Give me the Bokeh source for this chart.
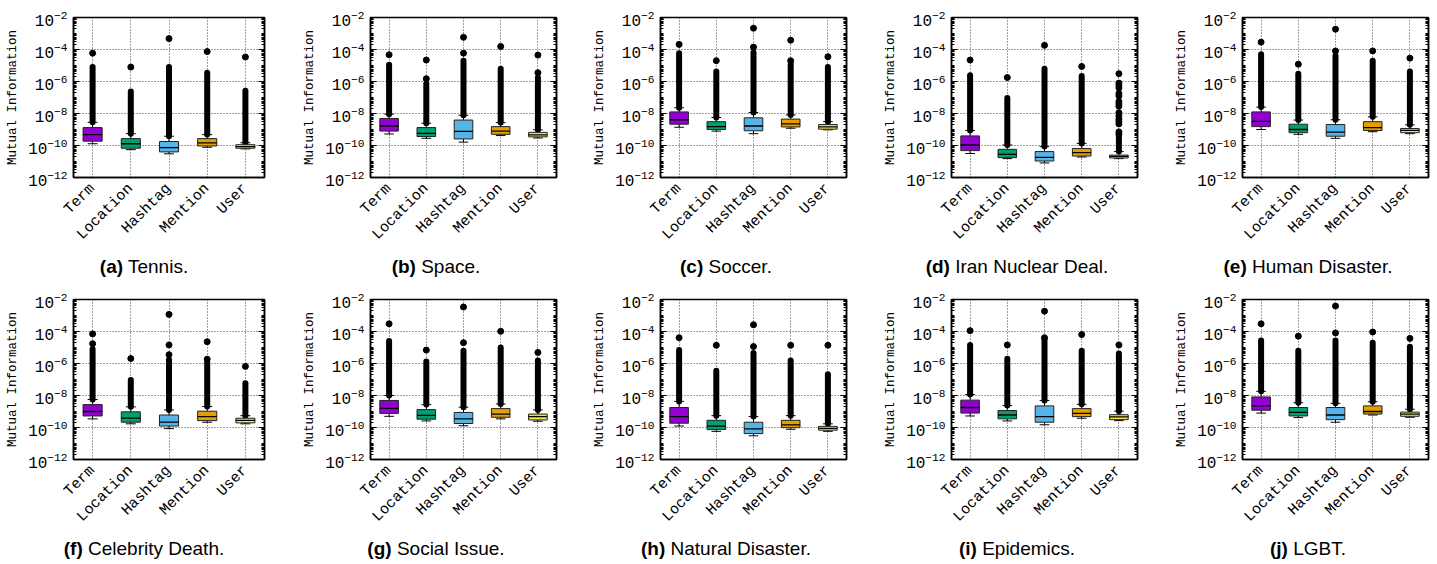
import math
from bokeh.plotting import figure
from bokeh.layouts import row, column
from bokeh.models import (ColumnDataSource, FactorRange, Range1d, FixedTicker,
                          LogAxis, CustomJSTickFormatter, Div)
from bokeh.transform import dodge
from bokeh.embed import file_html
from bokeh.resources import INLINE

# ---------------- data (log10 of mutual information) ----------------
categories = ["Term", "Location", "Hashtag", "Mention", "User"]
colors = ["#9400D3", "#009E73", "#56B4E9", "#E69F00", "#F0E442"]
letters = ["(a)", "(b)", "(c)", "(d)", "(e)", "(f)", "(g)", "(h)", "(i)", "(j)"]
titles = ["Tennis.", "Space.", "Soccer.", "Iran Nuclear Deal.", "Human Disaster.",
          "Celebrity Death.", "Social Issue.", "Natural Disaster.", "Epidemics.", "LGBT."]

q3_log = [
    [-8.88, -9.57, -9.75, -9.57, -9.95],
    [-8.31, -8.88, -8.41, -8.82, -9.18],
    [-7.90, -8.51, -8.27, -8.35, -8.69],
    [-9.40, -10.24, -10.38, -10.19, -10.60],
    [-7.90, -8.67, -8.69, -8.51, -8.94],
    [-8.57, -9.02, -9.22, -8.98, -9.42],
    [-8.31, -8.88, -9.06, -8.82, -9.16],
    [-8.75, -9.55, -9.67, -9.55, -9.93],
    [-8.29, -8.94, -8.65, -8.82, -9.20],
    [-8.09, -8.75, -8.75, -8.65, -9.04],
]
median_log = [
    [-9.32, -9.89, -10.13, -9.83, -10.07],
    [-8.78, -9.24, -9.12, -9.10, -9.34],
    [-8.39, -8.82, -8.78, -8.65, -8.84],
    [-9.97, -10.56, -10.74, -10.44, -10.68],
    [-8.49, -9.00, -9.16, -8.88, -9.06],
    [-9.00, -9.42, -9.67, -9.32, -9.55],
    [-8.80, -9.24, -9.46, -9.16, -9.32],
    [-9.32, -9.91, -10.09, -9.83, -10.05],
    [-8.75, -9.22, -9.32, -9.12, -9.34],
    [-8.65, -9.06, -9.22, -9.00, -9.16],
]
q1_log = [
    [-9.73, -10.17, -10.40, -10.03, -10.17],
    [-9.10, -9.44, -9.59, -9.30, -9.46],
    [-8.67, -9.00, -9.08, -8.84, -8.98],
    [-10.32, -10.76, -10.97, -10.66, -10.78],
    [-8.82, -9.20, -9.42, -9.06, -9.20],
    [-9.28, -9.67, -9.91, -9.57, -9.71],
    [-9.12, -9.48, -9.75, -9.36, -9.53],
    [-9.73, -10.13, -10.38, -10.01, -10.17],
    [-9.10, -9.46, -9.67, -9.32, -9.51],
    [-8.92, -9.28, -9.51, -9.16, -9.30],
]
whisker_low_log = [
    [-9.89, -10.26, -10.52, -10.11, -10.21],
    [-9.28, -9.55, -9.79, -9.38, -9.53],
    [-8.86, -9.10, -9.26, -8.92, -9.02],
    [-10.50, -10.82, -11.09, -10.72, -10.82],
    [-9.00, -9.30, -9.55, -9.14, -9.26],
    [-9.46, -9.77, -10.07, -9.67, -9.77],
    [-9.30, -9.59, -9.89, -9.46, -9.61],
    [-9.91, -10.24, -10.52, -10.11, -10.24],
    [-9.28, -9.59, -9.83, -9.42, -9.57],
    [-9.10, -9.38, -9.67, -9.22, -9.36],
]
whisker_high_log = [
    [-8.55, -9.26, -9.42, -9.32, -9.83],
    [-8.04, -8.61, -8.11, -8.57, -9.02],
    [-7.64, -8.25, -7.94, -8.09, -8.51],
    [-9.06, -9.97, -10.07, -9.87, -10.38],
    [-7.60, -8.41, -8.39, -8.21, -8.71],
    [-8.25, -8.71, -8.90, -8.69, -9.26],
    [-8.00, -8.57, -8.73, -8.53, -8.90],
    [-8.37, -9.26, -9.32, -9.26, -9.77],
    [-7.94, -8.63, -8.31, -8.55, -8.98],
    [-7.74, -8.45, -8.49, -8.39, -8.86],
]
# upper end of the dense (overlapping) outlier column
dense_outlier_top_log = [
    [-5.10, -6.62, -5.10, -5.45, -6.58],
    [-4.96, -6.12, -4.70, -5.20, -5.75],
    [-4.23, -5.37, -4.19, -4.90, -5.10],
    [-5.61, -7.03, -5.20, -5.65, -9.46],
    [-4.29, -5.51, -4.39, -4.70, -5.37],
    [-5.10, -7.03, -5.77, -5.91, -7.23],
    [-4.60, -5.87, -5.20, -5.00, -5.81],
    [-5.16, -6.46, -5.35, -5.81, -6.67],
    [-4.84, -5.71, -4.49, -5.20, -5.37],
    [-4.56, -5.20, -4.56, -4.70, -4.96],
]
# separate outliers above the dense column
isolated_outliers_log = [
    [[-4.23], [-5.10], [-3.32], [-4.13], [-4.47]],
    [[-4.33], [-5.83, -4.66], [-4.23, -3.24], [-3.81], [-5.45, -4.35]],
    [[-3.68], [-4.70], [-3.85, -2.67], [-4.70, -3.42], [-4.45]],
    [[-4.66], [-5.75], [-3.74], [-5.06],
     [-9.30, -9.15, -8.65, -8.50, -8.35, -8.15, -7.95, -7.55, -7.40, -7.25,
      -6.90, -6.75, -6.40, -6.25, -6.10, -5.51]],
    [[-3.54], [-4.92], [-4.09, -2.73], [-4.09], [-4.54]],
    [[-4.76, -4.15], [-5.69], [-5.45, -4.84, -2.93], [-5.73, -4.64], [-6.18]],
    [[-3.52], [-5.16], [-4.70, -2.47], [-3.99], [-5.31]],
    [[-4.39], [-4.86], [-4.94, -3.58], [-4.86], [-4.86]],
    [[-3.95], [-4.84], [-4.39, -2.73], [-4.19], [-4.84]],
    [[-3.52], [-4.29], [-4.09, -2.41], [-4.03], [-4.43]],
]
major_exps = [-12, -10, -8, -6, -4, -2]

# ---------------- layout / style ----------------
MONO = "Liberation Mono"
SANS = "Liberation Sans"
col_widths = [300, 290, 291, 291, 264]
left_borders = [73, 65, 65, 65, 65]
right_borders = [36, 34, 35, 35, 8]
fig_heights = [252, 244]
top_borders = [17, 9]
BOTTOM = 70
cap_heights = [38, 28]


def pw(v):
    return [10.0 ** x for x in v]


major_ticks = [10.0 ** e for e in major_exps]
minor_ticks = [m * 10.0 ** e for e in range(-12, -2) for m in range(2, 10)] + \
              [10.0 ** e for e in range(-11, -2, 2)]


def make_panel(k):
    r, c = divmod(k, 5)
    p = figure(width=col_widths[c], height=fig_heights[r],
               x_range=FactorRange(*categories), y_range=Range1d(1e-12, 1e-2),
               y_axis_type="log", output_backend="svg", toolbar_location=None,
               min_border_left=left_borders[c], min_border_right=right_borders[c],
               min_border_top=top_borders[r], min_border_bottom=BOTTOM)
    p.background_fill_color = "white"
    p.border_fill_color = "white"
    p.outline_line_color = "black"
    p.outline_line_width = 1.5
    p.outline_line_alpha = 1.0

    ticker = FixedTicker(ticks=major_ticks, minor_ticks=minor_ticks)
    ya = p.yaxis[0]
    ya.ticker = ticker
    ya.axis_label = "Mutual Information"
    ya.axis_label_text_font = MONO
    ya.axis_label_text_font_size = "12.5px"
    ya.axis_label_text_font_style = "normal"
    ya.axis_label_text_color = "black"
    ya.axis_label_standoff = 5
    ya.major_label_text_font = MONO
    ya.major_label_text_font_size = "16px"
    ya.major_label_text_color = "black"
    ya.major_label_standoff = 6
    ya.major_tick_in = 6
    ya.major_tick_out = 0
    ya.minor_tick_in = 3
    ya.minor_tick_out = 0
    ya.axis_line_color = "black"
    ya.axis_line_width = 1.5

    ra = LogAxis(ticker=ticker, formatter=CustomJSTickFormatter(code="return ''"),
                 major_label_standoff=0,
                 major_tick_in=6, major_tick_out=0, minor_tick_in=3, minor_tick_out=0,
                 axis_line_color="black", axis_line_width=1.5)
    p.add_layout(ra, "right")

    xa = p.xaxis[0]
    xa.major_label_orientation = math.pi / 4
    xa.major_label_text_font = MONO
    xa.major_label_text_font_size = "15px"
    xa.major_label_text_color = "black"
    xa.major_label_standoff = 9
    xa.major_tick_in = 0
    xa.major_tick_out = 0
    xa.axis_line_color = "black"
    xa.axis_line_width = 1.5

    for g in (p.xgrid[0], p.ygrid[0]):
        g.grid_line_color = "black"
        g.grid_line_alpha = 0.75
        g.grid_line_dash = "1 2"
        g.grid_line_width = 1
    p.ygrid[0].ticker = ticker

    src = ColumnDataSource(dict(
        cat=categories,
        q1=pw(q1_log[k]), q3=pw(q3_log[k]), med=pw(median_log[k]),
        lo=pw(whisker_low_log[k]), hi=pw(whisker_high_log[k]),
        top=pw(dense_outlier_top_log[k]), color=colors,
    ))
    # dense outlier column
    p.segment(x0="cat", y0="hi", x1="cat", y1="top", source=src,
              line_color="black", line_width=6, line_cap="round")
    # whiskers
    p.segment(x0="cat", y0="lo", x1="cat", y1="q1", source=src, line_color="black", line_width=1)
    p.segment(x0="cat", y0="q3", x1="cat", y1="hi", source=src, line_color="black", line_width=1)
    for yf in ("lo", "hi"):
        p.segment(x0=dodge("cat", -0.13, range=p.x_range), y0=yf,
                  x1=dodge("cat", 0.13, range=p.x_range), y1=yf,
                  source=src, line_color="black", line_width=1)
    # boxes
    p.vbar(x="cat", width=0.5, bottom="q1", top="q3", source=src,
           fill_color="color", line_color="#222222", line_width=1)
    p.segment(x0=dodge("cat", -0.25, range=p.x_range), y0="med",
              x1=dodge("cat", 0.25, range=p.x_range), y1="med",
              source=src, line_color="black", line_width=1.3)
    # isolated outliers
    oc, ov = [], []
    for ci, vals in enumerate(isolated_outliers_log[k]):
        for v in vals:
            oc.append(categories[ci])
            ov.append(10.0 ** v)
    p.scatter(x=oc, y=ov, size=6, color="black")
    return p


def make_caption(k):
    r, c = divmod(k, 5)
    cx = left_borders[c] + 71
    html = (f'<div style="width:{2 * cx}px;text-align:center;white-space:nowrap;'
            f'padding-top:5px;font-family:\'{SANS}\',Arial,sans-serif;font-size:19px;'
            f'line-height:20px;color:black;"><b>{letters[k]}</b> {titles[k]}</div>')
    return Div(text=html, width=col_widths[c], height=cap_heights[r], margin=0)


cells = [column(make_panel(k), make_caption(k), spacing=0) for k in range(10)]
root = column(row(*cells[:5], spacing=0), row(*cells[5:], spacing=0), spacing=0)

open("out.html", "w").write(file_html(root, INLINE))
